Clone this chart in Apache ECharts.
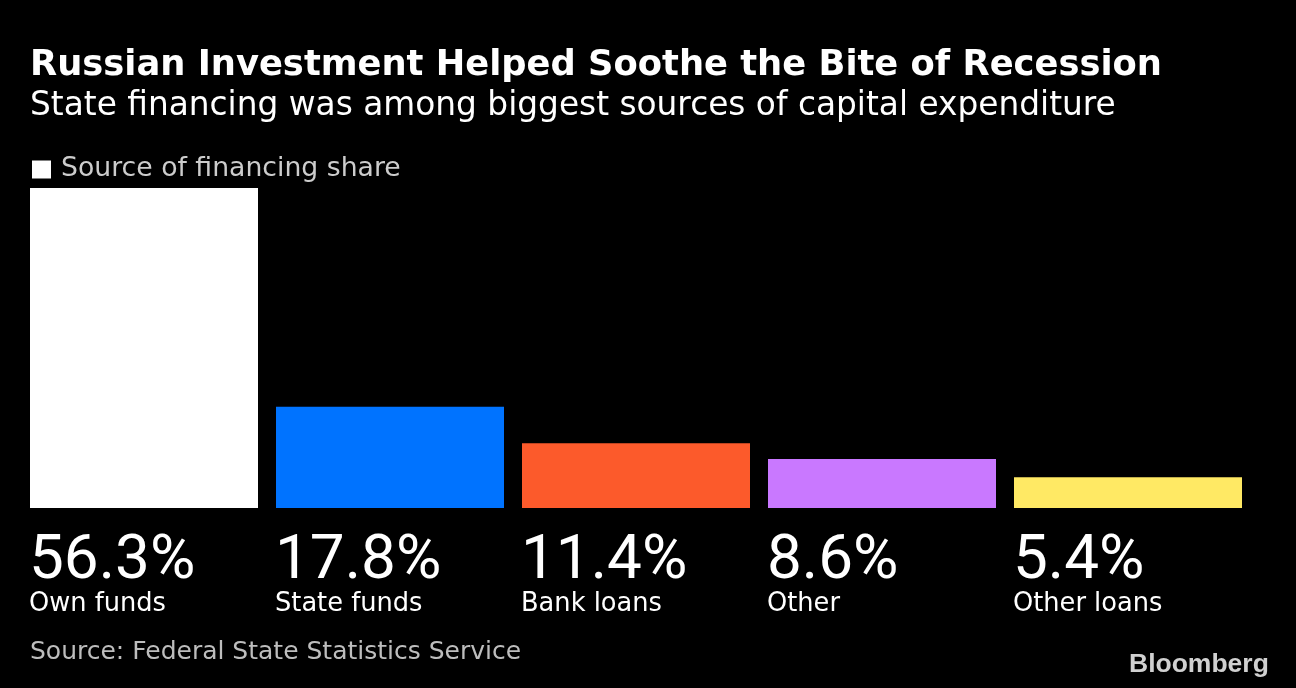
<!DOCTYPE html>
<html>
<head>
<meta charset="utf-8">
<style>
html,body{margin:0;padding:0;background:#000;}
#chart{width:1296px;height:688px;}
</style>
<script src="https://cdn.jsdelivr.net/npm/echarts@6/dist/echarts.min.js"></script>
</head>
<body>
<div id="chart"></div>
<script>
const categories = ["Own funds", "State funds", "Bank loans", "Other", "Other loans"];
const shares = [56.3, 17.8, 11.4, 8.6, 5.4];
const barColors = ["#ffffff", "#0073ff", "#fc5a2b", "#c978ff", "#ffe964"];
const seriesName = "Source of financing share";

const FONT = '"DejaVu Sans", sans-serif';
const NUMFONT = 'Roboto, sans-serif';

const chart = echarts.init(document.getElementById('chart'));
chart.setOption({
  backgroundColor: '#000',
  animation: false,
  title: [
    {
      text: 'Russian Investment Helped Soothe the Bite of Recession',
      left: 25, top: 43,
      textStyle: {color: '#fff', fontSize: 35.3, fontWeight: 'bold', fontFamily: FONT}
    },
    {
      text: 'State financing was among biggest sources of capital expenditure',
      left: 25, top: 85,
      textStyle: {color: '#fff', fontSize: 32.8, fontWeight: 'normal', fontFamily: FONT}
    },
    {
      text: 'Source: Federal State Statistics Service',
      left: 25, top: 635,
      textStyle: {color: '#bdbdbd', fontSize: 25, fontWeight: 'normal', fontFamily: FONT}
    },
    {
      text: 'Bloomberg',
      left: 1124, top: 646,
      textStyle: {color: '#d0d0d0', fontSize: 26.5, fontWeight: 'bold', fontFamily: '"Liberation Sans", Arial, sans-serif'}
    }
  ],
  legend: {
    data: [seriesName],
    left: 27, top: 151,
    icon: 'rect',
    itemWidth: 19, itemHeight: 18, itemGap: 10,
    selectedMode: false,
    textStyle: {color: '#cccccc', fontSize: 26.7, fontFamily: FONT, padding: [0, 0, 0, 5]}
  },
  grid: {left: 21, right: 45, top: 188, bottom: 180},
  xAxis: {
    type: 'category',
    data: categories,
    show: false
  },
  yAxis: {
    type: 'value',
    min: 0,
    max: 'dataMax',
    show: false
  },
  series: [{
    name: seriesName,
    type: 'bar',
    barWidth: 228,
    itemStyle: {color: '#ffffff'},
    data: shares.map((v, i) => ({value: v, itemStyle: {color: barColors[i]}})),
    label: {
      show: true,
      position: [0, '100%'],
      align: 'left',
      verticalAlign: 'top',
      offset: [-1, 24],
      formatter: p => '{v|' + p.value.toFixed(1) + '%}\n{n|' + p.name + '}',
      rich: {
        v: {color: '#fff', fontSize: 62, lineHeight: 60, fontFamily: NUMFONT},
        n: {color: '#fff', fontSize: 25.7, lineHeight: 22, fontFamily: FONT, padding: [2, 0, 0, 0]}
      }
    }
  }]
});
</script>
</body>
</html>
